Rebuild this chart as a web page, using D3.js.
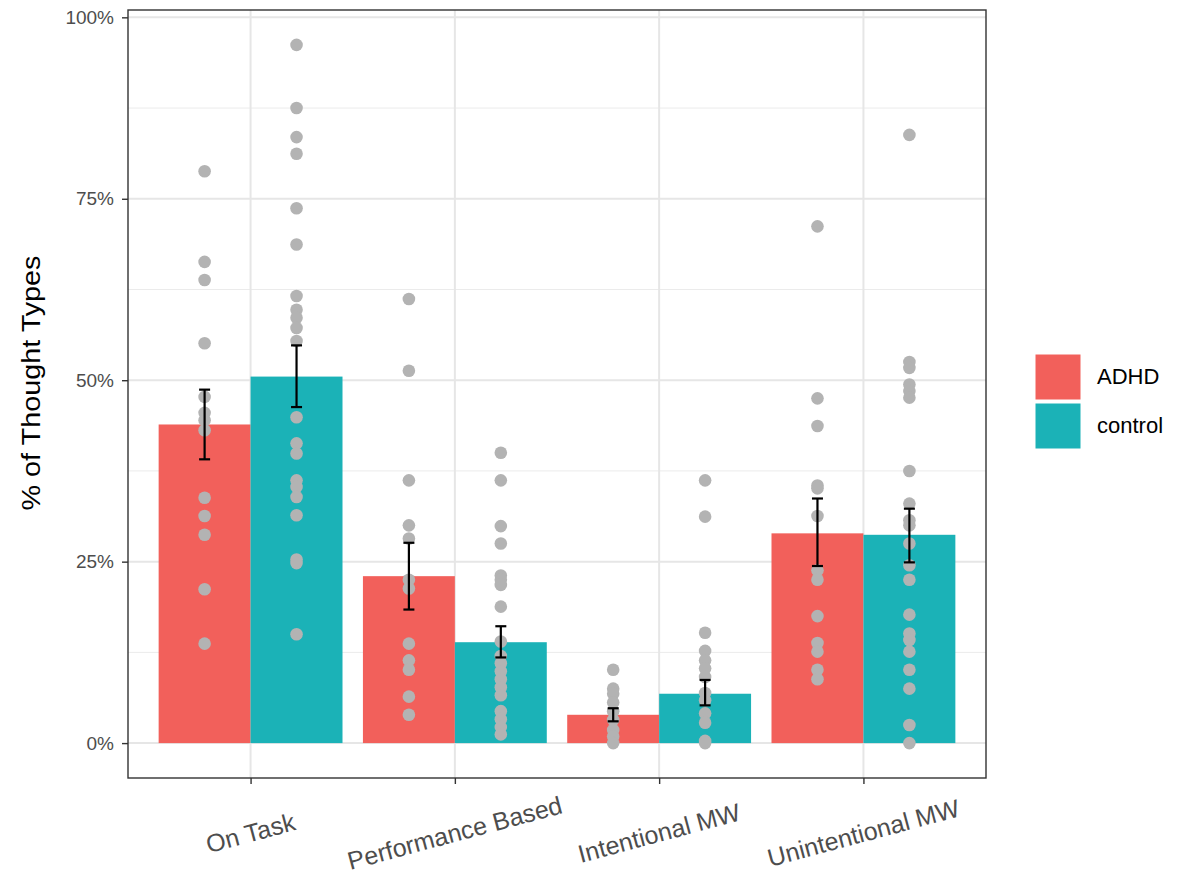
<!DOCTYPE html>
<html>
<head>
<meta charset="utf-8">
<script src="https://cdn.jsdelivr.net/npm/d3@7"></script>
<style>
  html, body { margin: 0; padding: 0; background: #ffffff; }
  svg { display: block; font-family: "Liberation Sans", Arial, Helvetica, sans-serif; }
</style>
</head>
<body>
<svg id="chart" width="1178" height="876"></svg>
<script>
// ---------- data ----------
const categories = ["On Task", "Performance Based", "Intentional MW", "Unintentional MW"];
const groups = ["ADHD", "control"];
const groupColors = ["#F2605B", "#1BB2B7"];

const adhdMeans    = [43.9, 23.0, 3.9, 28.9];
const controlMeans = [50.5, 13.9, 6.8, 28.7];
const adhdLower    = [39.1, 18.4, 3.0, 24.4];
const adhdUpper    = [48.7, 27.6, 4.8, 33.7];
const controlLower = [46.3, 11.8, 5.2, 24.9];
const controlUpper = [54.8, 16.1, 8.7, 32.3];

const adhdOnTask    = [78.8, 66.3, 63.8, 55.1, 47.7, 45.5, 44.5, 43.1, 33.8, 31.3, 28.7, 21.2, 13.7];
const controlOnTask = [96.2, 87.5, 83.5, 81.2, 73.7, 68.7, 61.6, 59.7, 58.6, 57.2, 55.4, 44.9, 41.3, 39.9, 36.2, 35.3, 33.9, 31.4, 25.3, 24.8, 15.0];
const adhdPerf      = [61.2, 51.3, 36.2, 30.0, 28.2, 22.5, 21.3, 13.7, 11.4, 10.1, 6.4, 3.9];
const controlPerf   = [40.0, 36.2, 29.9, 27.5, 23.1, 22.5, 21.8, 18.8, 14.0, 12.0, 11.0, 9.9, 8.8, 7.7, 6.6, 4.4, 3.3, 2.2, 1.2];
const adhdInt       = [10.1, 7.5, 6.8, 5.6, 4.4, 3.2, 1.8, 0.9, 0.0];
const controlInt    = [36.2, 31.2, 15.2, 12.7, 11.4, 10.3, 9.1, 6.9, 5.9, 4.1, 2.8, 0.3, 0.0];
const adhdUnint     = [71.2, 47.5, 43.7, 35.5, 35.1, 31.3, 23.8, 22.5, 17.5, 13.8, 12.6, 10.1, 8.8];
const controlUnint  = [83.8, 52.5, 51.7, 49.4, 48.5, 47.6, 37.5, 33.0, 30.7, 30.0, 27.5, 24.5, 22.5, 17.7, 15.1, 14.2, 12.6, 10.1, 7.5, 2.5, 0.0];

const yTicks = [0, 25, 50, 75, 100];
const yTickLabels = ["0%", "25%", "50%", "75%", "100%"];
const yMinor = [12.5, 37.5, 62.5, 87.5];
const yTitle = "% of Thought Types";

// ---------- build tables ----------
const means = [adhdMeans, controlMeans];
const lowers = [adhdLower, controlLower];
const uppers = [adhdUpper, controlUpper];
const points = [
  [adhdOnTask, adhdPerf, adhdInt, adhdUnint],
  [controlOnTask, controlPerf, controlInt, controlUnint]
];

const bars = [];
const dots = [];
groups.forEach((g, gi) => {
  categories.forEach((c, ci) => {
    bars.push({cat: c, group: g, gi, mean: means[gi][ci], lo: lowers[gi][ci], hi: uppers[gi][ci]});
    points[gi][ci].forEach(v => dots.push({cat: c, group: g, gi, value: v}));
  });
});

// ---------- layout ----------
const panel = {left: 128, right: 986, top: 10, bottom: 778};
const svg = d3.select("#chart");
const FONT = "'Liberation Sans', Arial, sans-serif";

const allVals = dots.map(d => d.value).concat(bars.map(d => d.hi), [0]);
const ext = d3.extent(allVals);
const pad = (ext[1] - ext[0]) * 0.05;
const y = d3.scaleLinear().domain([ext[0] - pad, ext[1] + pad]).range([panel.bottom, panel.top]);

// ggplot discrete expansion (0.6 units each side)
const unit = (panel.right - panel.left) / (categories.length - 1 + 1.2);
const xc = d3.scalePoint().domain(categories).range([panel.left + 0.6 * unit, panel.right - 0.6 * unit]);
const barW = 0.45 * unit;
const xg = d3.scaleBand().domain(groups).range([-barW, barW]).padding(0);
const color = d3.scaleOrdinal().domain(groups).range(groupColors);

const g = svg.append("g");
g.append("rect").attr("x", panel.left).attr("y", panel.top)
  .attr("width", panel.right - panel.left).attr("height", panel.bottom - panel.top).attr("fill", "#ffffff");

// grid
g.selectAll(".minor").data(yMinor).join("line")
  .attr("x1", panel.left).attr("x2", panel.right)
  .attr("y1", d => y(d)).attr("y2", d => y(d))
  .attr("stroke", "#EBEBEB").attr("stroke-width", 1);
g.selectAll(".major").data(yTicks).join("line")
  .attr("x1", panel.left).attr("x2", panel.right)
  .attr("y1", d => y(d)).attr("y2", d => y(d))
  .attr("stroke", "#E6E6E6").attr("stroke-width", 2);
g.selectAll(".vmajor").data(categories).join("line")
  .attr("x1", d => xc(d)).attr("x2", d => xc(d))
  .attr("y1", panel.top).attr("y2", panel.bottom)
  .attr("stroke", "#E6E6E6").attr("stroke-width", 2);

// bars
g.selectAll(".bar").data(bars).join("rect")
  .attr("x", d => xc(d.cat) + xg(d.group))
  .attr("width", xg.bandwidth())
  .attr("y", d => y(d.mean))
  .attr("height", d => y(0) - y(d.mean))
  .attr("fill", d => color(d.group));

// dots
g.selectAll(".dot").data(dots).join("circle")
  .attr("cx", d => xc(d.cat) + xg(d.group) + xg.bandwidth() / 2)
  .attr("cy", d => y(d.value))
  .attr("r", 6.3)
  .attr("fill", "#B3B3B3");

// error bars
const eb = g.selectAll(".eb").data(bars).join("g")
  .attr("transform", d => `translate(${xc(d.cat) + xg(d.group) + xg.bandwidth() / 2},0)`);
eb.append("line").attr("x1", 0).attr("x2", 0)
  .attr("y1", d => y(d.lo)).attr("y2", d => y(d.hi))
  .attr("stroke", "#000").attr("stroke-width", 2.2);
eb.append("line").attr("x1", -5.5).attr("x2", 5.5)
  .attr("y1", d => y(d.lo)).attr("y2", d => y(d.lo))
  .attr("stroke", "#000").attr("stroke-width", 2.2);
eb.append("line").attr("x1", -5.5).attr("x2", 5.5)
  .attr("y1", d => y(d.hi)).attr("y2", d => y(d.hi))
  .attr("stroke", "#000").attr("stroke-width", 2.2);

// panel border
g.append("rect").attr("x", panel.left).attr("y", panel.top)
  .attr("width", panel.right - panel.left).attr("height", panel.bottom - panel.top)
  .attr("fill", "none").attr("stroke", "#333333").attr("stroke-width", 1.4);

// y axis
const yAxis = d3.axisLeft(y).tickValues(yTicks).tickFormat((d, i) => yTickLabels[i]).tickSize(6).tickPadding(8);
const ya = svg.append("g").attr("transform", `translate(${panel.left},0)`).call(yAxis);
ya.select(".domain").remove();
ya.selectAll(".tick line").attr("stroke", "#333333").attr("stroke-width", 1.4);
ya.selectAll(".tick text").attr("fill", "#4D4D4D").style("font-size", "19px").style("font-family", FONT);

// x axis
const xAxis = d3.axisBottom(xc).tickSize(6).tickPadding(6);
const xa = svg.append("g").attr("transform", `translate(0,${panel.bottom})`).call(xAxis);
xa.select(".domain").remove();
xa.selectAll(".tick line").attr("stroke", "#333333").attr("stroke-width", 1.4);
xa.selectAll(".tick text")
  .attr("fill", "#4D4D4D").style("font-size", "25px").style("font-family", FONT)
  .attr("text-anchor", "middle")
  .attr("dy", null).attr("y", 0)
  .attr("transform", "translate(0,57) rotate(-15)")
  .attr("dominant-baseline", "middle");

// y title
svg.append("text")
  .attr("transform", `translate(40,383) rotate(-90)`)
  .attr("text-anchor", "middle")
  .attr("fill", "#000")
  .style("font-size", "25px")
  .attr("textLength", 255).attr("lengthAdjust", "spacingAndGlyphs")
  .text(yTitle);

// legend
const leg = svg.append("g").attr("transform", "translate(1035,354)");
const li = leg.selectAll(".li").data(groups).join("g")
  .attr("transform", (d, i) => `translate(0,${i * 49})`);
li.append("rect").attr("width", 46).attr("height", 46).attr("fill", d => color(d))
  .attr("stroke", "#ffffff").attr("stroke-width", 1);
li.append("text").attr("x", 62).attr("y", 24).attr("dominant-baseline", "middle")
  .style("font-size", "22px").attr("fill", "#000").text(d => d);
</script>
</body>
</html>
